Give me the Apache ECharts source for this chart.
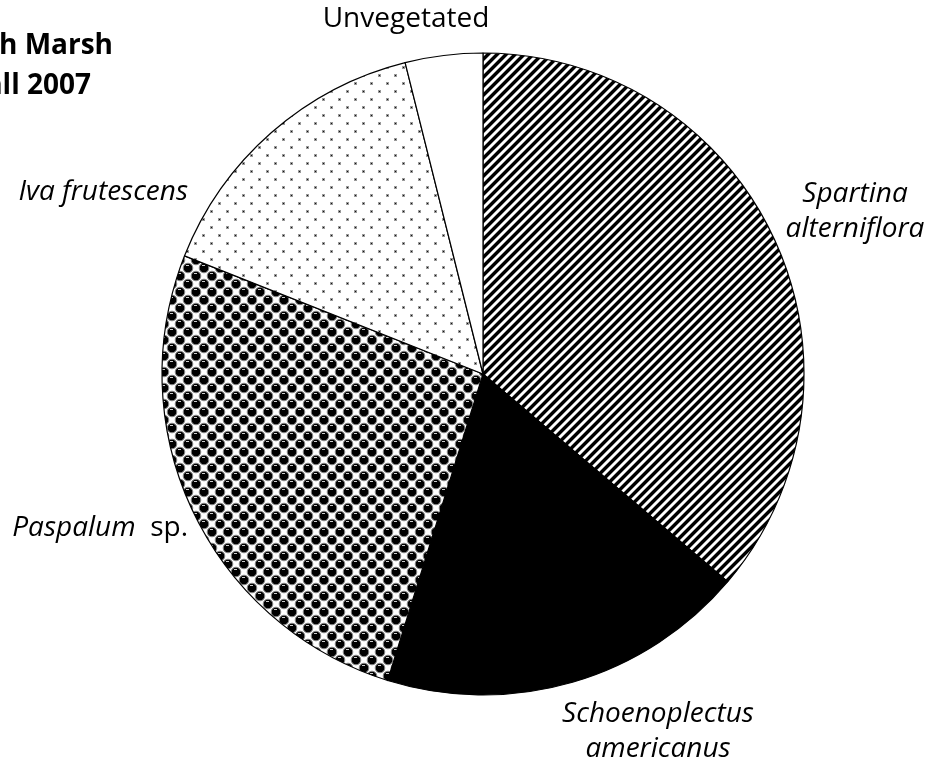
<!DOCTYPE html>
<html>
<head>
<meta charset="utf-8">
<script src="https://cdn.jsdelivr.net/npm/echarts@6/dist/echarts.min.js"></script>
<style>
  html, body { margin: 0; padding: 0; background: #fff; }
  #chart { width: 926px; height: 768px; }
</style>
</head>
<body>
<div id="chart"></div>
<script>
// slice data, clockwise from 12 o'clock
const categories = ['Spartina alterniflora', 'Schoenoplectus americanus', 'Paspalum sp.', 'Iva frutescens', 'Unvegetated'];
const shares = [36.2, 18.6, 26.2, 15.1, 3.9];
const titleLines = ['North Marsh', 'Fall 2007'];

// label text and placement (styling only)
const labelText = [
    '{i|Spartina}\n{i|alterniflora}',
    '{i|Schoenoplectus}\n{i|americanus}',
    '{i|Paspalum}{n|  sp.}',
    '{i|Iva frutescens}',
    '{n|Unvegetated}'
];
// [x, y, align]
const labelPos = [[855, 212, 'center'], [658, 732, 'center'], [188, 528, 'right'], [188, 192, 'right'], [406, 19, 'center']];

const FONT = '"Open Sans", "DejaVu Sans", sans-serif';

function makeTile(size, draw) {
    const c = document.createElement('canvas');
    c.width = size;
    c.height = size;
    const ctx = c.getContext('2d');
    ctx.fillStyle = '#fff';
    ctx.fillRect(0, 0, size, size);
    draw(ctx, size);
    return c;
}

// diagonal "/" stripes
const stripes = makeTile(9, function (ctx, s) {
    const img = ctx.getImageData(0, 0, s, s);
    for (let y = 0; y < s; y++) {
        for (let x = 0; x < s; x++) {
            const d = (x + y) % s;
            let v = 255;
            if (d < 4) v = 0;
            else if (d === 4 || d === 8) v = 140;
            const k = (y * s + x) * 4;
            img.data[k] = img.data[k + 1] = img.data[k + 2] = v;
            img.data[k + 3] = 255;
        }
    }
    ctx.putImageData(img, 0, 0);
});

// sparse dots
const dots = makeTile(16, function (ctx) {
    [[3, 3], [11, 11]].forEach(function (p) {
        ctx.fillStyle = '#999';
        ctx.fillRect(p[0] - 1, p[1] - 1, 3, 3);
        ctx.fillStyle = '#111';
        ctx.fillRect(p[0], p[1], 1, 1);
    });
});

// shaded spheres
const balls = makeTile(16, function (ctx) {
    [[4, 4], [12, 12], [-4, 12], [12, -4], [20, 4], [4, 20], [-4, -4], [20, 20]].forEach(function (p) {
        ctx.beginPath();
        ctx.arc(p[0], p[1], 4.8, 0, Math.PI * 2);
        ctx.fillStyle = '#000';
        ctx.fill();
        ctx.lineWidth = 1;
        ctx.strokeStyle = '#888';
        ctx.stroke();
        ctx.fillStyle = '#ccc';
        ctx.fillRect(p[0] - 2, p[1] - 3, 3, 1);
    });
});

const fills = [
    { image: stripes, repeat: 'repeat' },
    '#000',
    { image: balls, repeat: 'repeat' },
    { image: dots, repeat: 'repeat' },
    '#fff'
];

const chart = echarts.init(document.getElementById('chart'), null, { renderer: 'canvas' });

const option = {
    backgroundColor: '#fff',
    animation: false,
    graphic: [
        {
            type: 'text',
            style: { text: titleLines[0], x: 113, y: 46, textAlign: 'right', textVerticalAlign: 'middle',
                font: 'bold 28px ' + FONT, fill: '#000' }
        },
        {
            type: 'text',
            style: { text: titleLines[1], x: 91, y: 86, textAlign: 'right', textVerticalAlign: 'middle',
                font: 'bold 28px ' + FONT, fill: '#000' }
        }
    ],
    series: [
        {
            type: 'pie',
            center: [483, 374],
            radius: [0, 321],
            startAngle: 90,
            clockwise: true,
            avoidLabelOverlap: false,
            itemStyle: { borderColor: '#000', borderWidth: 1.2 },
            emphasis: { disabled: true },
            label: {
                show: true,
                position: 'outside',
                lineHeight: 35,
                formatter: function (p) { return labelText[p.dataIndex]; },
                rich: {
                    i: { fontFamily: FONT, fontStyle: 'italic', fontSize: 28, color: '#000', lineHeight: 35 },
                    n: { fontFamily: FONT, fontSize: 28, color: '#000', lineHeight: 35 }
                }
            },
            labelLine: { show: false },
            labelLayout: function (params) {
                const p = labelPos[params.dataIndex];
                return { x: p[0], y: p[1], align: p[2], verticalAlign: 'middle' };
            },
            data: categories.map(function (name, i) {
                return { name: name, value: shares[i], itemStyle: { color: fills[i] } };
            })
        }
    ]
};

chart.setOption(option);
</script>
</body>
</html>
